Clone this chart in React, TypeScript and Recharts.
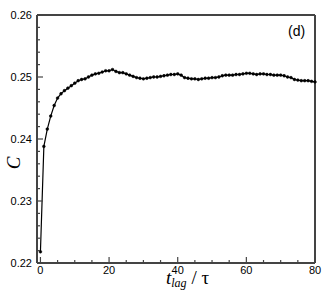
import { LineChart, Line, XAxis, YAxis, ReferenceLine } from 'recharts';

const lagTimes = [
  0, 1, 2, 3, 4, 5, 6, 7, 8, 9, 10, 11, 12, 13, 14, 15, 16, 17, 18, 19, 20,
  21, 22, 23, 24, 25, 26, 27, 28, 29, 30, 31, 32, 33, 34, 35, 36, 37, 38, 39, 40,
  41, 42, 43, 44, 45, 46, 47, 48, 49, 50, 51, 52, 53, 54, 55, 56, 57, 58, 59, 60,
  61, 62, 63, 64, 65, 66, 67, 68, 69, 70, 71, 72, 73, 74, 75, 76, 77, 78, 79, 80,
];

const cValues = [
  0.2218, 0.2388, 0.2416, 0.2437, 0.2454, 0.2466, 0.2473, 0.2478, 0.2482, 0.2486,
  0.249, 0.2494, 0.2496, 0.2497, 0.25, 0.2503, 0.2505, 0.2506, 0.2508, 0.251,
  0.251, 0.2512, 0.2509, 0.2507, 0.2507, 0.2505, 0.2503, 0.2501, 0.2499, 0.2498,
  0.2497, 0.2498, 0.2499, 0.25, 0.25, 0.2501, 0.2502, 0.2503, 0.2504, 0.2504,
  0.2505, 0.2503, 0.2499, 0.2498, 0.2497, 0.2497, 0.2496, 0.2497, 0.2498, 0.2498,
  0.2499, 0.2499, 0.25, 0.2502, 0.2503, 0.2503, 0.2503, 0.2504, 0.2504, 0.2505,
  0.2506, 0.2506, 0.2505, 0.2504, 0.2505, 0.2505, 0.2504, 0.2504, 0.2503, 0.2503,
  0.2503, 0.2502, 0.25, 0.2499, 0.2496, 0.2495, 0.2494, 0.2494, 0.2494, 0.2493,
  0.2492,
];

const xTicks = [0, 5, 10, 15, 20, 25, 30, 35, 40, 45, 50, 55, 60, 65, 70, 75, 80];
const xLabels = ['0', '20', '40', '60', '80'];
const yTicks = [
  0.22, 0.222, 0.224, 0.226, 0.228, 0.23, 0.232, 0.234, 0.236, 0.238, 0.24,
  0.242, 0.244, 0.246, 0.248, 0.25, 0.252, 0.254, 0.256, 0.258, 0.26,
];
const yLabels = ['0.22', '0.23', '0.24', '0.25', '0.26'];

const data = lagTimes.map((t, i) => ({ t, c: cValues[i] }));

const W = 332;
const H = 296;
const LEFT = 37;
const TOP = 15;
const RIGHT = 315;
const BOTTOM = 263;
const frame = '#444';
const tickFont = { fontFamily: '"Liberation Sans", Arial, sans-serif', fontSize: 11, fill: '#000' };

function XTick({ x, payload }: any) {
  const major = xLabels.includes(String(payload.value));
  return (
    <g>
      <line x1={x} x2={x} y1={BOTTOM} y2={BOTTOM - (major ? 6 : 3)} stroke={frame} strokeWidth={1.2} />
      {major && (
        <text x={x} y={BOTTOM + 11} textAnchor="middle" {...tickFont}>
          {payload.value}
        </text>
      )}
    </g>
  );
}

function YTick({ y, payload }: any) {
  const label = yLabels.find((l) => Math.abs(Number(l) - payload.value) < 1e-6);
  return (
    <g>
      <line x1={LEFT} x2={LEFT + (label ? 6 : 3)} y1={y} y2={y} stroke={frame} strokeWidth={1.2} />
      {label && (
        <text x={LEFT - 5} y={y + 4} textAnchor="end" {...tickFont}>
          {label}
        </text>
      )}
    </g>
  );
}

export default function App() {
  return (
    <div style={{ position: 'absolute', left: 0, top: 0, width: W, height: H, background: '#fff' }}>
      <LineChart
        width={W}
        height={H}
        data={data}
        margin={{ top: TOP, right: W - RIGHT, bottom: 0, left: 0 }}
      >
        <XAxis
          dataKey="t"
          type="number"
          domain={[-1, 80]}
          ticks={xTicks}
          interval={0}
          height={H - BOTTOM}
          tick={<XTick />}
          tickLine={false}
          axisLine={{ stroke: frame, strokeWidth: 2 }}
          label={{
            content: () => (
              <text x={166} y={284} fontFamily='"Liberation Serif", "Times New Roman", serif' fill="#000">
                <tspan fontSize={19} fontStyle="italic">t</tspan>
                <tspan fontSize={12} fontStyle="italic" dy={3}>lag</tspan>
                <tspan fontSize={19} dy={-3}> / τ</tspan>
              </text>
            ),
          }}
        />
        <YAxis
          type="number"
          domain={[0.22, 0.26]}
          ticks={yTicks}
          interval={0}
          width={LEFT}
          tick={<YTick />}
          tickLine={false}
          axisLine={{ stroke: frame, strokeWidth: 2 }}
          label={{
            content: () => (
              <text
                x={20}
                y={163}
                transform="rotate(-90 20 163)"
                textAnchor="middle"
                fontFamily='"Liberation Serif", "Times New Roman", serif'
                fontStyle="italic"
                fontSize={19}
                fill="#000"
              >
                C
              </text>
            ),
          }}
        />
        <ReferenceLine y={0.26} stroke={frame} strokeWidth={2} />
        <ReferenceLine
          x={80}
          stroke={frame}
          strokeWidth={2}
          label={{
            content: () => (
              <text x={288} y={36} fontFamily='"Liberation Sans", Arial, sans-serif' fontSize={14} fill="#000">
                (d)
              </text>
            ),
          }}
        />
        <Line
          dataKey="c"
          stroke="#000"
          strokeWidth={1.2}
          dot={{ r: 1.4, fill: '#000', stroke: '#000', strokeWidth: 0.5 }}
          isAnimationActive={false}
        />
      </LineChart>
    </div>
  );
}
